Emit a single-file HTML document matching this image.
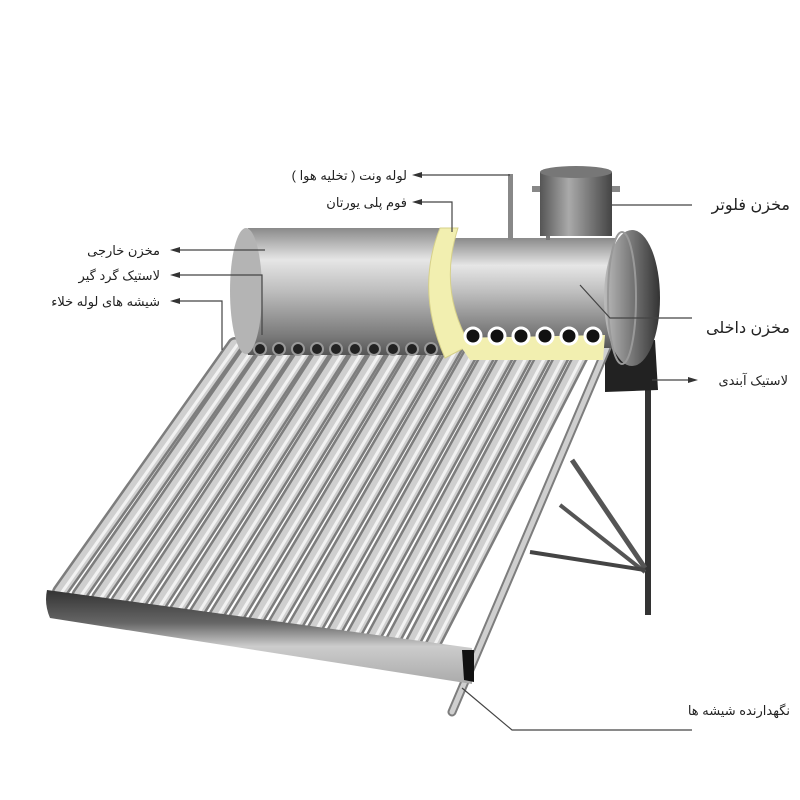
<!DOCTYPE html>
<html><head><meta charset="utf-8"><style>
body{margin:0;background:#fff}
svg{display:block}
text{font-family:"Liberation Sans","DejaVu Sans",sans-serif;fill:#222}
</style></head><body>
<svg width="800" height="800" viewBox="0 0 800 800" xmlns="http://www.w3.org/2000/svg">
<defs>
<linearGradient id="cyl" x1="0" y1="0" x2="0" y2="1">
<stop offset="0" stop-color="#8a8a8a"/><stop offset="0.25" stop-color="#e6e6e6"/><stop offset="0.5" stop-color="#bdbdbd"/><stop offset="0.85" stop-color="#7a7a7a"/><stop offset="1" stop-color="#555"/></linearGradient>
<linearGradient id="cap" x1="0" y1="0" x2="1" y2="0">
<stop offset="0" stop-color="#bbb"/><stop offset="0.5" stop-color="#777"/><stop offset="1" stop-color="#333"/></linearGradient>
<linearGradient id="flt" x1="0" y1="0" x2="1" y2="0">
<stop offset="0" stop-color="#555"/><stop offset="0.4" stop-color="#aaa"/><stop offset="1" stop-color="#444"/></linearGradient>
<linearGradient id="rail" x1="0" y1="0" x2="0" y2="1">
<stop offset="0" stop-color="#333"/><stop offset="0.35" stop-color="#666"/><stop offset="0.6" stop-color="#ccc"/><stop offset="1" stop-color="#aaa"/></linearGradient>
</defs>

<!-- stand -->
<rect x="645" y="385" width="6" height="230" fill="#333"/>
<polyline points="572,460 645,568" stroke="#555" stroke-width="5" fill="none"/>
<polyline points="560,505 645,572" stroke="#555" stroke-width="4" fill="none"/>
<polyline points="530,552 645,570" stroke="#444" stroke-width="4" fill="none"/>
<path d="M605,345 L655,340 L658,390 L605,392 z" fill="#222"/>

<!-- tubes -->
<g stroke-linecap="round">
<g stroke="#7d7d7d" stroke-width="16">
<line x1="235" y1="345" x2="60" y2="592"/><line x1="253.5" y1="345" x2="79.5" y2="595"/><line x1="272" y1="345" x2="99" y2="598"/><line x1="290.5" y1="345" x2="118.5" y2="601"/><line x1="309" y1="345" x2="138" y2="604"/><line x1="327.5" y1="345" x2="157.5" y2="607"/><line x1="346" y1="345" x2="177" y2="610"/><line x1="364.5" y1="345" x2="196.5" y2="613"/><line x1="383" y1="345" x2="216" y2="616"/><line x1="401.5" y1="345" x2="235.5" y2="619"/><line x1="420" y1="345" x2="255" y2="622"/><line x1="438.5" y1="345" x2="274.5" y2="625"/><line x1="457" y1="345" x2="294" y2="628"/><line x1="475.5" y1="345" x2="313.5" y2="631"/><line x1="494" y1="345" x2="333" y2="634"/><line x1="512.5" y1="345" x2="352.5" y2="637"/><line x1="531" y1="345" x2="372" y2="640"/><line x1="549.5" y1="345" x2="391.5" y2="643"/><line x1="568" y1="345" x2="411" y2="646"/><line x1="586.5" y1="345" x2="430.5" y2="649"/>
</g>
<g stroke="#cfcfcf" stroke-width="11">
<line x1="235" y1="345" x2="60" y2="592"/><line x1="253.5" y1="345" x2="79.5" y2="595"/><line x1="272" y1="345" x2="99" y2="598"/><line x1="290.5" y1="345" x2="118.5" y2="601"/><line x1="309" y1="345" x2="138" y2="604"/><line x1="327.5" y1="345" x2="157.5" y2="607"/><line x1="346" y1="345" x2="177" y2="610"/><line x1="364.5" y1="345" x2="196.5" y2="613"/><line x1="383" y1="345" x2="216" y2="616"/><line x1="401.5" y1="345" x2="235.5" y2="619"/><line x1="420" y1="345" x2="255" y2="622"/><line x1="438.5" y1="345" x2="274.5" y2="625"/><line x1="457" y1="345" x2="294" y2="628"/><line x1="475.5" y1="345" x2="313.5" y2="631"/><line x1="494" y1="345" x2="333" y2="634"/><line x1="512.5" y1="345" x2="352.5" y2="637"/><line x1="531" y1="345" x2="372" y2="640"/><line x1="549.5" y1="345" x2="391.5" y2="643"/><line x1="568" y1="345" x2="411" y2="646"/><line x1="586.5" y1="345" x2="430.5" y2="649"/>
</g>
<g stroke="#f2f2f2" stroke-width="3" transform="translate(2,0)">
<line x1="235" y1="345" x2="60" y2="592"/><line x1="253.5" y1="345" x2="79.5" y2="595"/><line x1="272" y1="345" x2="99" y2="598"/><line x1="290.5" y1="345" x2="118.5" y2="601"/><line x1="309" y1="345" x2="138" y2="604"/><line x1="327.5" y1="345" x2="157.5" y2="607"/><line x1="346" y1="345" x2="177" y2="610"/><line x1="364.5" y1="345" x2="196.5" y2="613"/><line x1="383" y1="345" x2="216" y2="616"/><line x1="401.5" y1="345" x2="235.5" y2="619"/><line x1="420" y1="345" x2="255" y2="622"/><line x1="438.5" y1="345" x2="274.5" y2="625"/><line x1="457" y1="345" x2="294" y2="628"/><line x1="475.5" y1="345" x2="313.5" y2="631"/><line x1="494" y1="345" x2="333" y2="634"/><line x1="512.5" y1="345" x2="352.5" y2="637"/><line x1="531" y1="345" x2="372" y2="640"/><line x1="549.5" y1="345" x2="391.5" y2="643"/><line x1="568" y1="345" x2="411" y2="646"/><line x1="586.5" y1="345" x2="430.5" y2="649"/>
</g>
<line x1="608" y1="345" x2="452" y2="712" stroke="#7d7d7d" stroke-width="9"/>
<line x1="608" y1="345" x2="452" y2="712" stroke="#cfcfcf" stroke-width="5"/>
</g>

<!-- bottom rail -->
<path d="M47,590 L472,648 L472,684 L50,618 Q44,604 47,590 z" fill="url(#rail)"/>
<path d="M462,650 L474,650 L474,682 L464,680 z" fill="#111"/>

<!-- outer tank -->
<path d="M248,228 L445,228 L445,355 L248,355 Q228,292 248,228 z" fill="url(#cyl)"/>
<ellipse cx="246" cy="291" rx="16" ry="63" fill="#b4b4b4"/>
<!-- inner tank -->
<rect x="445" y="238" width="170" height="110" fill="url(#cyl)"/>
<!-- yellow foam crescent -->
<path d="M440,228 L458,228 Q438,290 470,345 L445,358 Q415,290 440,228 z" fill="#f2efb0" stroke="#d6d08a" stroke-width="1"/>
<path d="M455,338 L605,335 L603,360 L470,360 z" fill="#f2efb0"/>
<g fill="#111" stroke="#fff" stroke-width="3">
<circle cx="473" cy="336" r="8"/><circle cx="497" cy="336" r="8"/><circle cx="521" cy="336" r="8"/><circle cx="545" cy="336" r="8"/><circle cx="569" cy="336" r="8"/><circle cx="593" cy="336" r="8"/>
</g>
<g fill="#222" stroke="#999" stroke-width="2">
<circle cx="260" cy="349" r="6"/><circle cx="279" cy="349" r="6"/><circle cx="298" cy="349" r="6"/><circle cx="317" cy="349" r="6"/><circle cx="336" cy="349" r="6"/><circle cx="355" cy="349" r="6"/><circle cx="374" cy="349" r="6"/><circle cx="393" cy="349" r="6"/><circle cx="412" cy="349" r="6"/><circle cx="431" cy="349" r="6"/>
</g>
<!-- end cap -->
<ellipse cx="632" cy="298" rx="28" ry="68" fill="url(#cap)"/>
<ellipse cx="622" cy="298" rx="14" ry="66" fill="none" stroke="#999" stroke-width="2"/>

<!-- float tank -->
<rect x="546" y="232" width="4" height="8" fill="#777"/>
<rect x="540" y="172" width="72" height="64" fill="url(#flt)"/>
<ellipse cx="576" cy="172" rx="36" ry="6" fill="#777"/>
<rect x="532" y="186" width="8" height="6" fill="#888"/><rect x="612" y="186" width="8" height="6" fill="#888"/>
<!-- vent -->
<rect x="508" y="174" width="5" height="66" fill="#888"/>

<!-- leaders -->
<g stroke="#444" stroke-width="1.2" fill="none">
<polyline points="510,175 418,175"/>
<polyline points="452,232 452,202 418,202"/>
<polyline points="612,205 692,205"/>
<polyline points="265,250 177,250"/>
<polyline points="262,335 262,275 177,275"/>
<polyline points="222,350 222,301 177,301"/>
<polyline points="580,285 610,318 692,318"/>
<polyline points="652,380 690,380"/>
<polyline points="462,688 512,730 692,730"/>
</g>
<g fill="#333">
<polygon points="412,175 422,172 422,178"/>
<polygon points="412,202 422,199 422,205"/>
<polygon points="170,250 180,247 180,253"/>
<polygon points="170,275 180,272 180,278"/>
<polygon points="170,301 180,298 180,304"/>
<polygon points="698,380 688,377 688,383"/>
</g>

<g font-size="13" text-anchor="end">
<text x="407" y="180">لوله ونت ( تخلیه هوا )</text>
<text x="407" y="207">فوم پلی یورتان</text>
<text x="160" y="255">مخزن خارجی</text>
<text x="160" y="280">لاستیک گرد گیر</text>
<text x="160" y="306">شیشه های لوله خلاء</text>
<text x="788" y="385">لاستیک آبندی</text>
<text x="790" y="715">نگهدارنده شیشه ها</text>
</g>
<g font-size="16" text-anchor="end">
<text x="790" y="210">مخزن فلوتر</text>
<text x="790" y="333">مخزن داخلی</text>
</g>
</svg>
</body></html>
